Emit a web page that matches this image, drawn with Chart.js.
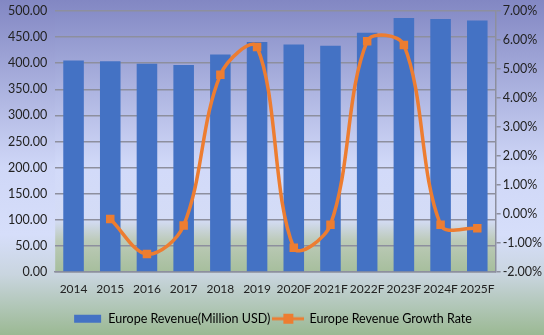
<!DOCTYPE html>
<html>
<head>
<meta charset="utf-8">
<script src="https://cdn.jsdelivr.net/npm/chart.js@4"></script>
<style>
  html, body { margin: 0; padding: 0; }
  #wrap { width: 544px; height: 335px; position: relative; }
</style>
</head>
<body>
<div id="wrap"><canvas id="Revenue-Chart"></canvas></div>
<script>
// Chart values
const years = ['2014', '2015', '2016', '2017', '2018', '2019', '2020F', '2021F', '2022F', '2023F', '2024F', '2025F'];
const revenue = [405.0, 403.8, 399.0, 396.5, 416.5, 440.5, 436.0, 433.5, 458.5, 486.5, 484.5, 482.0];
const growthRate = [null, -0.17, -1.38, -0.39, 4.80, 5.76, -1.16, -0.37, 5.96, 5.83, -0.37, -0.49]; // percent

const revenueLabel = 'Europe Revenue(Million USD)';
const growthLabel = 'Europe Revenue Growth Rate';

const blue = '#4472c4';
const orange = '#ed7d31';
const gridColor = '#8d8f9e';
const fontFamily = 'Lato, "Noto Sans", sans-serif';
const tickFont = { family: fontFamily, size: 12.5 };

// legend icons
function barIcon() {
    const c = document.createElement('canvas');
    c.width = 30; c.height = 10;
    const x = c.getContext('2d');
    x.fillStyle = blue;
    x.fillRect(2, 1, 27, 8);
    return c;
}
function lineIcon() {
    const c = document.createElement('canvas');
    c.width = 32; c.height = 12;
    const x = c.getContext('2d');
    x.strokeStyle = orange;
    x.lineWidth = 3;
    x.beginPath(); x.moveTo(0, 6); x.lineTo(32, 6); x.stroke();
    x.fillStyle = orange;
    x.fillRect(11, 1, 10, 10);
    return c;
}

// background gradients (whole picture + plot area)
const backgroundPlugin = {
    id: 'backgrounds',
    beforeDraw(chart) {
        const ctx = chart.ctx;
        const { width, height, chartArea } = chart;
        ctx.save();
        let g = ctx.createLinearGradient(0, 0, 0, height);
        g.addColorStop(0, '#8287c3');
        g.addColorStop(0.5, '#cfd7f7');
        g.addColorStop(0.7, '#d6defa');
        g.addColorStop(0.82, '#c9d5df');
        g.addColorStop(1, '#9bb993');
        ctx.fillStyle = g;
        ctx.fillRect(0, 0, width, height);

        const a = chartArea;
        g = ctx.createLinearGradient(0, a.top, 0, a.bottom);
        g.addColorStop(0, '#878dc7');
        g.addColorStop(0.6, '#d2daf9');
        g.addColorStop(0.8, '#d4dcf6');
        g.addColorStop(0.88, '#bccab8');
        g.addColorStop(1, '#a6be9c');
        ctx.fillStyle = g;
        ctx.fillRect(a.left, a.top, a.right - a.left, a.bottom - a.top);
        ctx.restore();
    }
};

// keep the top tick labels close to the top edge
function tightTop(scale) {
    scale.paddingTop = 11;
}

const ctx = document.getElementById('Revenue-Chart').getContext('2d');

new Chart(ctx, {
    data: {
        labels: years,
        datasets: [
            {
                type: 'line',
                label: growthLabel,
                data: growthRate,
                yAxisID: 'y1',
                borderColor: orange,
                backgroundColor: orange,
                borderWidth: 3.5,
                tension: 0.35,
                pointStyle: 'rect',
                pointRadius: 6,
                pointBackgroundColor: orange,
                pointBorderWidth: 0,
                spanGaps: false,
                order: 0
            },
            {
                type: 'bar',
                label: revenueLabel,
                data: revenue,
                yAxisID: 'y',
                backgroundColor: blue,
                categoryPercentage: 1,
                barPercentage: 0.56,
                order: 1
            }
        ]
    },
    options: {
        responsive: true,
        maintainAspectRatio: false,
        animation: false,
        layout: { padding: { top: 0, left: 0, right: 0, bottom: 0 } },
        plugins: {
            tooltip: { enabled: false },
            legend: {
                position: 'bottom',
                reverse: true,
                labels: {
                    usePointStyle: true,
                    pointStyleWidth: 30,
                    padding: 3,
                    color: '#222',
                    font: { family: fontFamily, size: 12.5 },
                    generateLabels: function (chart) {
                        return chart.data.datasets.map(function (ds, i) {
                            return {
                                text: ds.label,
                                pointStyle: ds.type === 'bar' ? barIcon() : lineIcon(),
                                fillStyle: ds.backgroundColor,
                                strokeStyle: ds.backgroundColor,
                                lineWidth: 0,
                                datasetIndex: i,
                                hidden: false
                            };
                        });
                    }
                }
            }
        },
        scales: {
            x: {
                grid: { display: false, drawTicks: false },
                border: { color: gridColor, width: 1.5 },
                afterFit: function (scale) { scale.height += 3; },
                ticks: {
                    color: '#222',
                    padding: 10,
                    maxRotation: 0,
                    autoSkip: false,
                    font: { family: fontFamily, size: 12 }
                }
            },
            y: {
                position: 'left',
                min: 0,
                max: 500,
                afterFit: tightTop,
                grid: { color: gridColor, lineWidth: 1.5, drawTicks: false },
                border: { display: false },
                ticks: {
                    stepSize: 50,
                    padding: 8,
                    color: '#222',
                    font: tickFont,
                    callback: function (v) { return v.toFixed(2); }
                }
            },
            y1: {
                position: 'right',
                min: -2,
                max: 7,
                afterFit: tightTop,
                grid: { drawOnChartArea: false, color: gridColor, lineWidth: 1.5, tickLength: 5 },
                border: { color: gridColor, width: 1.5 },
                ticks: {
                    stepSize: 1,
                    padding: 2,
                    color: '#222',
                    font: tickFont,
                    callback: function (v) { return (Math.round(v * 100) / 100).toFixed(2) + '%'; }
                }
            }
        }
    },
    plugins: [backgroundPlugin]
});
</script>
</body>
</html>
